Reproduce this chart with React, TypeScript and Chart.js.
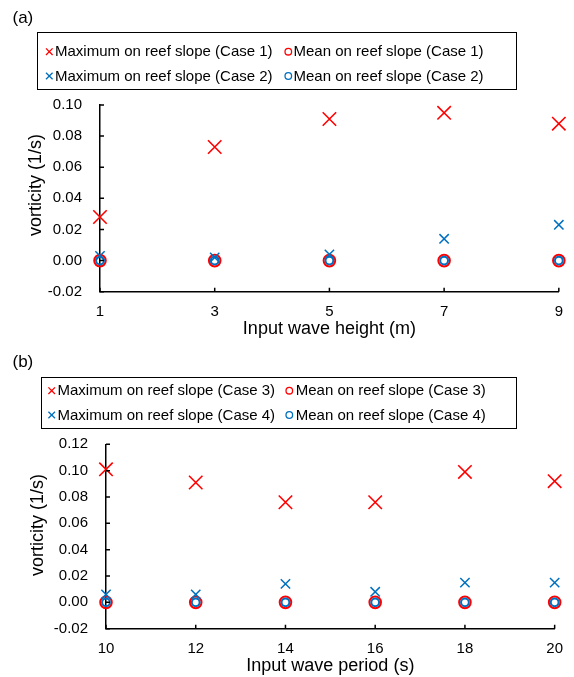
import React, { useEffect, useRef } from 'react';
import { Chart, registerables } from 'chart.js';

Chart.register(...registerables);

// ---- Data ----
const waveHeights = [1, 3, 5, 7, 9];
const case1Max = [0.028, 0.073, 0.091, 0.095, 0.088];
const case1Mean = [0.0, 0.0, 0.0, 0.0, 0.0];
const case2Max = [0.003, 0.002, 0.004, 0.014, 0.023];
const case2Mean = [0.0, 0.0, 0.0, 0.0, 0.0];

const wavePeriods = [10, 12, 14, 16, 18, 20];
const case3Max = [0.101, 0.091, 0.076, 0.076, 0.099, 0.092];
const case3Mean = [0.0, 0.0, 0.0, 0.0, 0.0, 0.0];
const case4Max = [0.006, 0.006, 0.014, 0.008, 0.015, 0.015];
const case4Mean = [0.0, 0.0, 0.0, 0.0, 0.0, 0.0];

const RED = '#FF0000';
const BLUE = '#0070C0';
const FONT = '"Liberation Sans", Arial, sans-serif';

function toPoints(xs: number[], ys: number[]) {
  return xs.map((x, i) => ({ x, y: ys[i] }));
}

function drawMarker(ctx: CanvasRenderingContext2D, style: string, x: number, y: number, color: string) {
  ctx.save();
  ctx.strokeStyle = color;
  ctx.lineWidth = 1.3;
  ctx.beginPath();
  if (style === 'crossRot') {
    const h = 3.3;
    ctx.moveTo(x - h, y - h);
    ctx.lineTo(x + h, y + h);
    ctx.moveTo(x - h, y + h);
    ctx.lineTo(x + h, y - h);
  } else {
    ctx.arc(x, y, 3.3, 0, Math.PI * 2);
  }
  ctx.stroke();
  ctx.restore();
}

type Cfg = {
  label: string;
  labelY: number;
  legend: { x: number; y: number; w: number; h: number; rows: number[]; markX: number[]; textX: number[] };
  yTitleX: number;
  yTitleY: number;
  yTitle: string;
};

function makeDecor(cfg: Cfg) {
  return {
    id: 'panelDecor',
    afterDraw(chart: any) {
      const ctx: CanvasRenderingContext2D = chart.ctx;
      ctx.save();
      // panel label
      ctx.fillStyle = '#000';
      ctx.font = `17px ${FONT}`;
      ctx.textAlign = 'left';
      ctx.textBaseline = 'middle';
      ctx.fillText(cfg.label, 12.5, cfg.labelY);
      // legend box
      const L = cfg.legend;
      ctx.strokeStyle = '#000';
      ctx.lineWidth = 1;
      ctx.strokeRect(Math.round(L.x) + 0.5, Math.round(L.y) + 0.5, Math.round(L.w), Math.round(L.h));
      ctx.font = `15px ${FONT}`;
      chart.data.datasets.forEach((ds: any, i: number) => {
        const row = Math.floor(i / 2);
        const col = i % 2;
        const yy = L.rows[row];
        drawMarker(ctx, ds.pointStyle, L.markX[col], yy, ds.borderColor);
        ctx.fillStyle = '#000';
        ctx.fillText(ds.label, L.textX[col], yy + 0.5);
      });
      // y title
      ctx.save();
      ctx.translate(cfg.yTitleX, cfg.yTitleY);
      ctx.rotate(-Math.PI / 2);
      ctx.textAlign = 'center';
      ctx.font = `18px ${FONT}`;
      ctx.fillText(cfg.yTitle, 0, 0);
      ctx.restore();
      // inward tick marks
      const area = chart.chartArea;
      const xs = chart.scales.x;
      const ys = chart.scales.y;
      ctx.strokeStyle = '#000';
      ctx.lineWidth = 1.5;
      ctx.beginPath();
      ys.ticks.forEach((t: any) => {
        const py = ys.getPixelForValue(t.value);
        ctx.moveTo(area.left, py);
        ctx.lineTo(area.left + 4, py);
      });
      xs.ticks.forEach((t: any) => {
        const px = xs.getPixelForValue(t.value);
        ctx.moveTo(px, area.bottom);
        ctx.lineTo(px, area.bottom - 4);
      });
      ctx.stroke();
      ctx.restore();
    },
  };
}

type PanelProps = {
  height: number;
  xs: number[];
  series: { label: string; data: number[]; style: string; color: string; radius: number; width: number; order: number }[];
  xMin: number;
  xMax: number;
  yMin: number;
  yMax: number;
  xTitle: string;
  pad: { top: number; right: number };
  yWidth: number;
  xHeight: number;
  cfg: Cfg;
};

function Panel(p: PanelProps) {
  const ref = useRef<HTMLCanvasElement>(null);
  useEffect(() => {
    const chart = new Chart(ref.current as HTMLCanvasElement, {
      type: 'scatter',
      data: {
        datasets: p.series.map((s) => ({
          label: s.label,
          data: toPoints(p.xs, s.data),
          pointStyle: s.style as any,
          pointRadius: s.radius,
          pointHoverRadius: s.radius,
          borderColor: s.color,
          backgroundColor: 'rgba(0,0,0,0)',
          pointBorderWidth: s.width,
          borderWidth: s.width,
          showLine: false,
          clip: false,
          order: s.order,
        })),
      },
      options: {
        responsive: false,
        animation: false,
        devicePixelRatio: 1,
        layout: { padding: { top: p.pad.top, right: p.pad.right, left: 0, bottom: 0 } },
        plugins: { legend: { display: false }, tooltip: { enabled: false } },
        scales: {
          x: {
            type: 'linear',
            min: p.xMin,
            max: p.xMax,
            ticks: { stepSize: 2, color: '#000', font: { family: FONT, size: 15 }, padding: 11, maxRotation: 0 },
            grid: { display: true, drawOnChartArea: false, drawTicks: false },
            border: { display: true, color: '#000', width: 1.5 },
            title: { display: true, text: p.xTitle, color: '#000', font: { family: FONT, size: 18 }, padding: { top: 0, bottom: 0 } },
            afterFit: (scale: any) => {
              scale.height = p.xHeight;
            },
          },
          y: {
            type: 'linear',
            min: p.yMin,
            max: p.yMax,
            ticks: {
              stepSize: 0.02,
              color: '#000',
              font: { family: FONT, size: 15 },
              padding: 18,
              callback: (v: any) => (Math.abs(Number(v)) < 1e-9 ? '0.00' : Number(v).toFixed(2)),
            },
            grid: { display: true, drawOnChartArea: false, drawTicks: false },
            border: { display: true, color: '#000', width: 1.5 },
            afterFit: (scale: any) => {
              scale.width = p.yWidth;
            },
          },
        },
      } as any,
      plugins: [makeDecor(p.cfg)],
    });
    return () => chart.destroy();
  }, []);
  return <canvas ref={ref} width={574} height={p.height} style={{ display: 'block', width: 574, height: p.height }} />;
}

export default function App() {
  return (
    <div style={{ position: 'absolute', left: 0, top: 0, width: 574, height: 677, background: '#fff' }}>
      <Panel
        height={340}
        xs={waveHeights}
        series={[
          { label: 'Maximum on reef slope (Case 1)', data: case1Max, style: 'crossRot', color: RED, radius: 9.5, width: 1.6, order: 0 },
          { label: 'Mean on reef slope (Case 1)', data: case1Mean, style: 'circle', color: RED, radius: 5.8, width: 2, order: 3 },
          { label: 'Maximum on reef slope (Case 2)', data: case2Max, style: 'crossRot', color: BLUE, radius: 6.6, width: 1.5, order: 1 },
          { label: 'Mean on reef slope (Case 2)', data: case2Mean, style: 'circle', color: BLUE, radius: 3.9, width: 2, order: 2 },
        ]}
        xMin={1}
        xMax={9}
        yMin={-0.02}
        yMax={0.1}
        xTitle="Input wave height (m)"
        pad={{ top: 105, right: 13 }}
        yWidth={100}
        xHeight={48.3}
        cfg={{
          label: '(a)',
          labelY: 18.3,
          legend: { x: 36.7, y: 31.7, w: 479.3, h: 56.6, rows: [51.7, 76], markX: [49.3, 288.3], textX: [55, 293.5] },
          yTitleX: 36.5,
          yTitleY: 185,
          yTitle: 'vorticity (1/s)',
        }}
      />
      <Panel
        height={337}
        xs={wavePeriods}
        series={[
          { label: 'Maximum on reef slope (Case 3)', data: case3Max, style: 'crossRot', color: RED, radius: 9.5, width: 1.6, order: 0 },
          { label: 'Mean on reef slope (Case 3)', data: case3Mean, style: 'circle', color: RED, radius: 5.8, width: 2, order: 3 },
          { label: 'Maximum on reef slope (Case 4)', data: case4Max, style: 'crossRot', color: BLUE, radius: 6.6, width: 1.5, order: 1 },
          { label: 'Mean on reef slope (Case 4)', data: case4Mean, style: 'circle', color: BLUE, radius: 3.9, width: 2, order: 2 },
        ]}
        xMin={10}
        xMax={20}
        yMin={-0.02}
        yMax={0.12}
        xTitle="Input wave period (s)"
        pad={{ top: 104.3, right: 17.3 }}
        yWidth={106}
        xHeight={48.3}
        cfg={{
          label: '(b)',
          labelY: 22.5,
          legend: { x: 41.3, y: 37.3, w: 475.4, h: 51, rows: [50.7, 75], markX: [51.7, 289.3], textX: [57.5, 295.7] },
          yTitleX: 38,
          yTitleY: 185,
          yTitle: 'vorticity (1/s)',
        }}
      />
    </div>
  );
}
